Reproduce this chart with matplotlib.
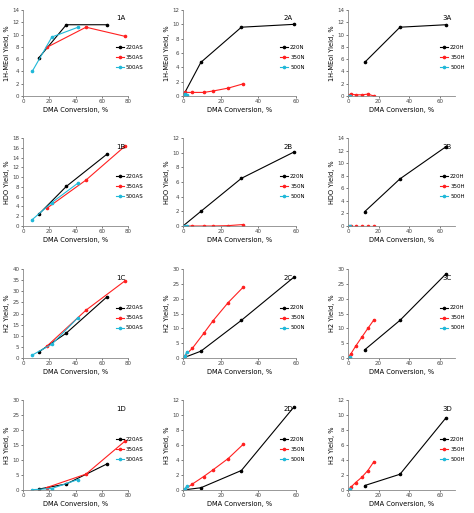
import matplotlib
matplotlib.use("Agg")
import matplotlib.pyplot as plt

# ---- data ----
x220AS = [12, 33, 64]; x350AS = [18, 48, 78]; x500AS = [7, 22, 42]
x220N = [0, 9.5, 31, 59]; x350N = [0, 1, 5, 11, 16, 24, 32]; x500N = [0, 1, 2]
x220H = [11, 34, 64]; x350H = [0, 2, 5, 9, 13, 17]; x500H = [0, 1]

y1A = {"220AS": [6.2, 11.6, 11.6], "350AS": [7.9, 11.2, 9.7], "500AS": [4.0, 9.6, 11.2]}
y2A = {"220N": [0, 4.7, 9.6, 10.0], "350N": [0.3, 0.5, 0.5, 0.5, 0.7, 1.1, 1.7], "500N": [0, 0.3, 0.1]}
y3A = {"220H": [5.5, 11.2, 11.6], "350H": [0.1, 0.3, 0.2, 0.2, 0.3, 0.0], "500H": [0, 0.05]}
y1B = {"220AS": [2.4, 8.1, 14.7], "350AS": [3.6, 9.4, 16.4], "500AS": [1.3, 4.8, 8.8]}
y2B = {"220N": [0, 2.0, 6.5, 10.1], "350N": [0, 0, 0, 0, 0, 0.05, 0.2], "500N": [0, 0, 0]}
y3B = {"220H": [2.3, 7.5, 12.6], "350H": [0, 0, 0, 0, 0, 0], "500H": [0, 0]}
y1C = {"220AS": [2.7, 11.2, 27.5], "350AS": [5.2, 21.5, 34.8], "500AS": [1.3, 6.2, 18.2]}
y2C = {"220N": [0, 2.3, 12.7, 27.3], "350N": [0, 0.8, 3.3, 8.3, 12.6, 18.7, 23.9], "500N": [0, 0.8, 2.0]}
y3C = {"220H": [2.8, 12.7, 28.3], "350H": [0, 1.5, 4.0, 7.0, 10.0, 12.9], "500H": [0, 0.3]}
y1D = {"220AS": [0.3, 2.0, 8.7], "350AS": [0.8, 5.3, 16.4], "500AS": [0.1, 0.5, 3.5]}
y2D = {"220N": [0, 0.3, 2.6, 11.1], "350N": [0, 0.1, 0.8, 1.8, 2.7, 4.2, 6.1], "500N": [0, 0.2, 0.5]}
y3D = {"220H": [0.6, 2.1, 9.6], "350H": [0, 0.4, 1.0, 1.7, 2.6, 3.8], "500H": [0, 0.1]}

xs = [[x220AS, x350AS, x500AS], [x220N, x350N, x500N], [x220H, x350H, x500H]]
rows = [[y1A, y2A, y3A], [y1B, y2B, y3B], [y1C, y2C, y3C], [y1D, y2D, y3D]]
row_labels = ["1H-MEol Yield, %", "HDO Yield, %", "H2 Yield, %", "H3 Yield, %"]
row_letters = ["A", "B", "C", "D"]
ylims = [[(0, 14, 2), (0, 12, 2), (0, 14, 2)],
         [(0, 18, 2), (0, 12, 2), (0, 14, 2)],
         [(0, 40, 5), (0, 30, 5), (0, 30, 5)],
         [(0, 30, 5), (0, 12, 2), (0, 12, 2)]]
xlims = [(0, 80), (0, 60), (0, 70)]
colors = ["#000000", "#ff2020", "#20b8d8"]

W, H = 474, 513
fig = plt.figure(figsize=(W / 100, H / 100), dpi=100)
colx = [(23, 128), (183, 296), (348, 455)]
rowy = [(10, 96), (138, 226), (269, 358), (400, 490)]
leg_x = [0.86, 0.84, 0.84]

for r in range(4):
    for c in range(3):
        x0, x1 = colx[c]; yt, yb = rowy[r]
        ax = fig.add_axes([x0 / W, 1 - yb / H, (x1 - x0) / W, (yb - yt) / H])
        data = rows[r][c]
        for k, (name, yv) in enumerate(data.items()):
            ax.plot(xs[c][k], yv, color=colors[k], lw=0.8, marker="o", ms=1.6, label=name)
        lo, hi, st = ylims[r][c]
        ax.set_ylim(lo, hi)
        ax.set_yticks(range(lo, hi + 1, st))
        ax.set_xlim(*xlims[c])
        ax.set_xticks([0, 20, 40, 60] + ([80] if c == 0 else []))
        for s in ["top", "right"]:
            ax.spines[s].set_visible(False)
        for s in ["left", "bottom"]:
            ax.spines[s].set_color("#888888"); ax.spines[s].set_linewidth(0.6)
        ax.tick_params(labelsize=4, length=1.5, width=0.5, pad=1, colors="#444444")
        ax.set_xlabel("DMA Conversion, %", fontsize=4.8, labelpad=2)
        ax.set_ylabel(row_labels[r], fontsize=4.8, labelpad=2)
        ax.text(0.93, 0.88, f"{c+1}{row_letters[r]}", transform=ax.transAxes,
                fontsize=5, ha="center")
        ax.legend(loc="center left", bbox_to_anchor=(leg_x[c], 0.45), fontsize=4,
                  frameon=False, handlelength=1.5, labelspacing=0.9,
                  handletextpad=0.3, borderaxespad=0)

fig.savefig("out.png", dpi=100)
